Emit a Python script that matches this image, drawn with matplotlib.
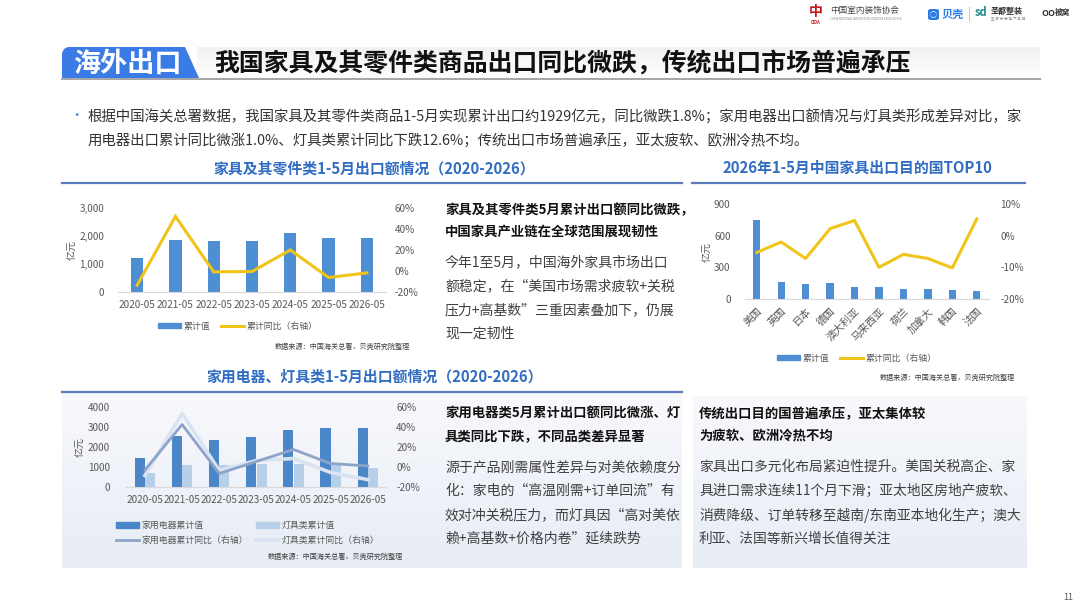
import numpy as np
import matplotlib as mpl, matplotlib.pyplot as plt
from matplotlib.patches import Polygon, Rectangle, FancyBboxPatch
from matplotlib.lines import Line2D
from matplotlib.colors import LinearSegmentedColormap
from matplotlib.ticker import FuncFormatter

mpl.rcParams.update({"font.family": ["Noto Sans CJK SC", "DejaVu Sans"], "axes.unicode_minus": False})

# ====== Data ======
years = ["2020-05", "2021-05", "2022-05", "2023-05", "2024-05", "2025-05", "2026-05"]
furn_val = [1200, 1845, 1835, 1835, 2095, 1945, 1929]          # 亿元
furn_yoy = [-13.5, 52.0, -0.8, -0.5, 20.0, -6.2, -1.8]           # %

appl_val = [1450, 2530, 2350, 2480, 2850, 2950, 2965]
lamp_val = [700, 1115, 1085, 1165, 1165, 1130, 935]
appl_yoy = [-3.0, 42.5, -6.5, 5.5, 17.5, 3.5, 1.0]
lamp_yoy = [-8.5, 53.5, -3.5, 6.5, 8.5, -5.5, -12.6]

countries = ["美国", "英国", "日本", "德国", "澳大利亚", "马来西亚", "荷兰", "加拿大", "韩国", "法国"]
dest_val = [752, 158, 142, 152, 110, 117, 95, 92, 82, 79]
dest_yoy = [-5.3, -2.0, -7.2, 2.2, 4.8, -10.0, -5.9, -7.2, -10.2, 5.3]

# ====== Style ======
BLUE = "#4e8fd3"
YELLOW = "#f0c419"
APPL_BAR, LAMP_BAR = "#4a86c8", "#b8cfe9"
APPL_LINE, LAMP_LINE = "#8da4c8", "#d9e3f1"
HEAD = "#2f6cc2"
TICK = "#595959"
W, H = 1080, 608

def fx(x): return x / W
def fy(y): return 1 - y / H
def box(x0, y0, x1, y1): return [fx(x0), fy(y1), (x1 - x0) / W, (y1 - y0) / H]

fig = plt.figure(figsize=(10.8, 6.08), dpi=100)
fig.patch.set_facecolor("white")

def txt(x, y, s, size, color="#222222", weight="normal", ha="left", va="center", **kw):
    fig.text(fx(x), fy(y), s, fontsize=size, color=color, fontweight=weight, ha=ha, va=va, **kw)

def grad_panel(x0, y0, x1, y1, c_top, c_bot):
    a = fig.add_axes(box(x0, y0, x1, y1), zorder=0)
    cm = LinearSegmentedColormap.from_list("g", [c_top, c_bot])
    a.imshow(np.linspace(0, 1, 100).reshape(-1, 1), aspect="auto", cmap=cm, extent=[0, 1, 0, 1])
    a.axis("off")

# ====== Header logos ======
txt(816, 12, "中", 10, color="#c8161d", weight="bold", ha="center")
txt(816, 22, "CIDA", 3, color="#c8161d", weight="bold", ha="center")
txt(830, 10, "中国室内装饰协会", 6.2, color="#444444")
txt(830, 19, "CHINA NATIONAL INTERIOR DECORATION ASSOCIATION", 2, color="#888888")
fig.patches.append(FancyBboxPatch((fx(928), fy(20)), 11 / W, 11 / H, boxstyle="round,pad=0,rounding_size=0.003",
                                  transform=fig.transFigure, facecolor="#2d7be5", edgecolor="none"))
txt(933.5, 14.5, "○", 5, color="white", weight="bold", ha="center")
txt(942, 14, "贝壳", 8, color="#2d7be5", weight="bold")
fig.add_artist(Line2D([fx(969), fx(969)], [fy(7), fy(21)], color="#bbbbbb", lw=0.6))
txt(975, 12, "sd", 8, color="#1b8a8c", weight="bold")
txt(991, 11, "圣都整装", 5.8, color="#333333", weight="bold")
txt(991, 19, "圣 都 家 装 旗 下 品 牌", 2.6, color="#888888")
txt(1041, 13, "OO", 6.5, color="#333333", weight="bold")
txt(1055, 12, "被窝", 5.5, color="#333333", weight="bold")

# ====== Title banner ======
grad_panel(197, 47, 1040, 78, "#f1f1f1", "#ffffff")
fig.patches.append(Polygon([(fx(62), fy(78)), (fx(62), fy(53)), (fx(64), fy(49)), (fx(68), fy(47)),
                            (fx(185), fy(47)), (fx(199), fy(78))], closed=True,
                           transform=fig.transFigure, facecolor="#3a7be6", edgecolor="none", zorder=2))
fig.add_artist(Line2D([fx(62), fx(1040)], [fy(79), fy(79)], color="#a8a8a8", lw=1.5))
txt(127, 64, "海外出口", 19.5, color="white", weight="bold", ha="center")
txt(214, 64, "我国家具及其零件类商品出口同比微跌，传统出口市场普遍承压", 17.9, color="#111111", weight="bold")

# ====== Bullet ======
txt(70, 116, "•", 9, color="#3a7be6")
txt(88, 117, "根据中国海关总署数据，我国家具及其零件类商品1-5月实现累计出口约1929亿元，同比微跌1.8%；家用电器出口额情况与灯具类形成差异对比，家", 10.4, color="#333333")
txt(88, 140, "用电器出口累计同比微涨1.0%、灯具类累计同比下跌12.6%；传统出口市场普遍承压，亚太疲软、欧洲冷热不均。", 10.4, color="#333333")

# ====== Section headers ======
txt(374, 168, "家具及其零件类1-5月出口额情况（2020-2026）", 10.7, color=HEAD, weight="bold", ha="center")
txt(857, 168, "2026年1-5月中国家具出口目的国TOP10", 10.7, color=HEAD, weight="bold", ha="center")
fig.add_artist(Line2D([fx(62), fx(682)], [fy(183), fy(183)], color="#5b7dbf", lw=1.6))
fig.add_artist(Line2D([fx(692), fx(1025)], [fy(183), fy(183)], color="#5b7dbf", lw=1.6))

# lower panels background
grad_panel(62, 393, 682, 568, "#f8f9fc", "#e7ecf5")
grad_panel(693, 396, 1027, 568, "#f8f9fc", "#e7ecf5")
txt(375, 377, "家用电器、灯具类1-5月出口额情况（2020-2026）", 10.7, color=HEAD, weight="bold", ha="center")
fig.add_artist(Line2D([fx(62), fx(682)], [fy(392), fy(392)], color="#5b7dbf", lw=1.6))

def style_axes(ax, ax2):
    for a in (ax, ax2):
        a.set_facecolor("none")
        for s in ("top", "left", "right"):
            a.spines[s].set_visible(False)
        a.spines["bottom"].set_color("#d9d9d9")
        a.spines["bottom"].set_linewidth(0.8)
        a.tick_params(length=0, labelsize=7.2, labelcolor=TICK)
    ax2.spines["bottom"].set_visible(False)

pct = FuncFormatter(lambda v, p: f"{v:.0f}%")
LEG = dict(frameon=False, fontsize=6.4, handlelength=2.6, handleheight=0.6, labelcolor=TICK, handletextpad=0.3)

# ====== Chart 1: furniture ======
x = np.arange(len(years))
ax1 = fig.add_axes(box(118, 208, 386, 292), zorder=3)
ax1.bar(x, furn_val, width=0.32, color=BLUE)
ax1.set_xlim(-0.5, len(years) - 0.5)
ax1.set_ylim(0, 3000)
ax1.set_yticks([0, 1000, 2000, 3000])
ax1.yaxis.set_major_formatter(FuncFormatter(lambda v, p: f"{v:,.0f}"))
ax1.set_xticks(x)
ax1.set_xticklabels(years)
ax1b = ax1.twinx()
ax1b.plot(x, furn_yoy, color=YELLOW, lw=2.2, solid_joinstyle="miter")
ax1b.set_ylim(-20, 60)
ax1b.set_yticks([-20, 0, 20, 40, 60])
ax1b.yaxis.set_major_formatter(pct)
style_axes(ax1, ax1b)
ax1.tick_params(axis="y", pad=10)
ax1.tick_params(axis="x", pad=6)
ax1b.tick_params(axis="y", pad=6)
ax1.set_ylabel("亿元", fontsize=7.2, color=TICK, labelpad=2)
h1 = [Rectangle((0, 0), 1, 1, color=BLUE), Line2D([], [], color=YELLOW, lw=2.2)]
fig.legend(h1, ["累计值", "累计同比（右轴）"], loc="center", bbox_to_anchor=(fx(238), fy(326)), ncol=2,
           columnspacing=1.2, **LEG)
txt(410, 347, "数据来源：中国海关总署，贝壳研究院整理", 5.1, color="#404040", ha="right")

# text block 1
txt(445, 210, "家具及其零件类5月累计出口额同比微跌，", 9.6, color="#111111", weight="bold")
txt(445, 232, "中国家具产业链在全球范围展现韧性", 9.6, color="#111111", weight="bold")
for i, s in enumerate(["今年1至5月，中国海外家具市场出口", "额稳定，在“美国市场需求疲软+关税",
                       "压力+高基数”三重因素叠加下，仍展", "现一定韧性"]):
    txt(445, 262 + 24 * i, s, 10, color="#404040")

# ====== Chart 3: destination TOP10 ======
xc = np.arange(len(countries))
ax3 = fig.add_axes(box(744.5, 204, 989, 299), zorder=3)
ax3.bar(xc, dest_val, width=0.3, color=BLUE)
ax3.set_xlim(-0.5, len(countries) - 0.5)
ax3.set_ylim(0, 900)
ax3.set_yticks([0, 300, 600, 900])
ax3.set_xticks(xc)
ax3.set_xticklabels(countries, rotation=45, ha="right", rotation_mode="anchor")
ax3b = ax3.twinx()
ax3b.plot(xc, dest_yoy, color=YELLOW, lw=2.2)
ax3b.set_ylim(-20, 10)
ax3b.set_yticks([-20, -10, 0, 10])
ax3b.yaxis.set_major_formatter(pct)
style_axes(ax3, ax3b)
ax3.tick_params(axis="x", labelsize=7.5, pad=5)
ax3.tick_params(axis="y", pad=10)
ax3b.tick_params(axis="y", pad=8)
ax3.set_ylabel("亿元", fontsize=7.2, color=TICK, labelpad=2)
fig.legend(h1, ["累计值", "累计同比（右轴）"], loc="center", bbox_to_anchor=(fx(857), fy(358)), ncol=2,
           columnspacing=1.2, **LEG)
txt(1015, 378, "数据来源：中国海关总署，贝壳研究院整理", 5.1, color="#404040", ha="right")

# ====== Chart 2: appliances & lamps ======
ax2 = fig.add_axes(box(126.4, 407, 386.4, 487), zorder=3)
ax2.bar(x - 0.14, appl_val, width=0.27, color=APPL_BAR)
ax2.bar(x + 0.14, lamp_val, width=0.27, color=LAMP_BAR)
ax2.set_xlim(-0.5, len(years) - 0.5)
ax2.set_ylim(0, 4000)
ax2.set_yticks([0, 1000, 2000, 3000, 4000])
ax2.set_xticks(x)
ax2.set_xticklabels(years)
ax2b = ax2.twinx()
ax2b.plot(x, lamp_yoy, color=LAMP_LINE, lw=2.6)
ax2b.plot(x, appl_yoy, color=APPL_LINE, lw=2.0)
ax2b.set_ylim(-20, 60)
ax2b.set_yticks([-20, 0, 20, 40, 60])
ax2b.yaxis.set_major_formatter(pct)
style_axes(ax2, ax2b)
ax2.tick_params(axis="y", pad=12)
ax2.tick_params(axis="x", pad=6)
ax2b.tick_params(axis="y", pad=7)
ax2.set_ylabel("亿元", fontsize=7.2, color=TICK, labelpad=2)
h2 = [Rectangle((0, 0), 1, 1, color=APPL_BAR), Line2D([], [], color=APPL_LINE, lw=2.0),
      Rectangle((0, 0), 1, 1, color=LAMP_BAR), Line2D([], [], color=LAMP_LINE, lw=2.6)]
fig.legend(h2, ["家用电器累计值", "家用电器累计同比（右轴）", "灯具类累计值", "灯具类累计同比（右轴）"],
           loc="upper left", bbox_to_anchor=(fx(108), fy(513)), ncol=2, columnspacing=0.9,
           labelspacing=0.65, **LEG)
txt(403, 557, "数据来源：中国海关总署，贝壳研究院整理", 5.1, color="#404040", ha="right")

# text block 2
txt(445, 414, "家用电器类5月累计出口额同比微涨、灯", 9.6, color="#111111", weight="bold")
txt(445, 437, "具类同比下跌，不同品类差异显著", 9.6, color="#111111", weight="bold")
for i, s in enumerate(["源于产品刚需属性差异与对美依赖度分", "化：家电的“高温刚需+订单回流”有",
                       "效对冲关税压力，而灯具因“高对美依", "赖+高基数+价格内卷”延续跌势"]):
    txt(445, 467 + 24 * i, s, 10, color="#404040")

# text block 3
txt(699, 414, "传统出口目的国普遍承压，亚太集体较", 9.6, color="#111111", weight="bold")
txt(699, 437, "为疲软、欧洲冷热不均", 9.6, color="#111111", weight="bold")
for i, s in enumerate(["家具出口多元化布局紧迫性提升。美国关税高企、家", "具进口需求连续11个月下滑；亚太地区房地产疲软、",
                       "消费降级、订单转移至越南/东南亚本地化生产；澳大", "利亚、法国等新兴增长值得关注"]):
    txt(699, 467 + 24 * i, s, 9.9, color="#404040")

txt(1063, 597, "11", 6.5, color="#555555")

fig.savefig("out.png", dpi=100)
